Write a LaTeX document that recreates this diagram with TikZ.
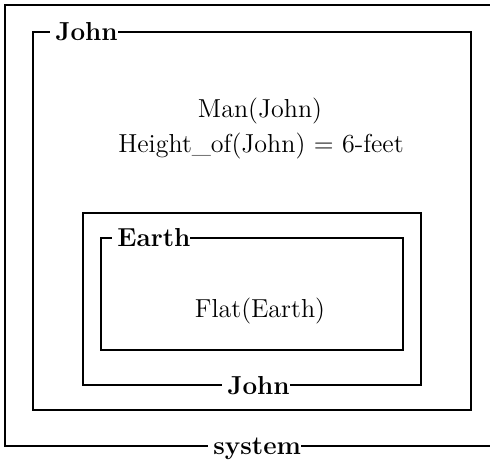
\documentclass[tikz,border=0pt]{standalone}
\usetikzlibrary{fit}
\begin{document}
\begin{tikzpicture}[x=0.5pt,y=-0.5pt,
  box/.style={draw, line width=1.2pt, inner sep=0pt},
  lbl/.style={font=\fontsize{13}{15.5}\selectfont\bfseries, fill=white, inner xsep=0pt, inner ysep=1pt, anchor=base west, yshift=-4pt},
  txt/.style={font=\fontsize{13}{15.5}\selectfont, inner sep=0pt, anchor=base}]
\clip (0,0) rectangle (490,462);
\node[box, fit={(5,5) (500,446)}] (sys) {};
\node[box, fit={(33,32) (471,410)}] (john) {};
\node[box, fit={(83,213) (421,385)}] (johnin) {};
\node[box, fit={(101,238) (403,350)}] (earth) {};
\node[lbl] (syslbl) at (208,446) {\hspace{2.5pt}system};
\node[lbl] (johnlbl) at (50,32) {\hspace{2.5pt}John};
\node[lbl] (johninlbl) at (222,386) {\hspace{2.5pt}John};
\node[lbl] (earthlbl) at (112,238) {\hspace{2.5pt}Earth};
\node[txt] (man) at (260,117) {Man(John)};
\node[txt] (height) at (261,152) {Height\_of(John) = 6-feet};
\node[txt] (flat) at (260,317) {Flat(Earth)};
\end{tikzpicture}
\end{document}
